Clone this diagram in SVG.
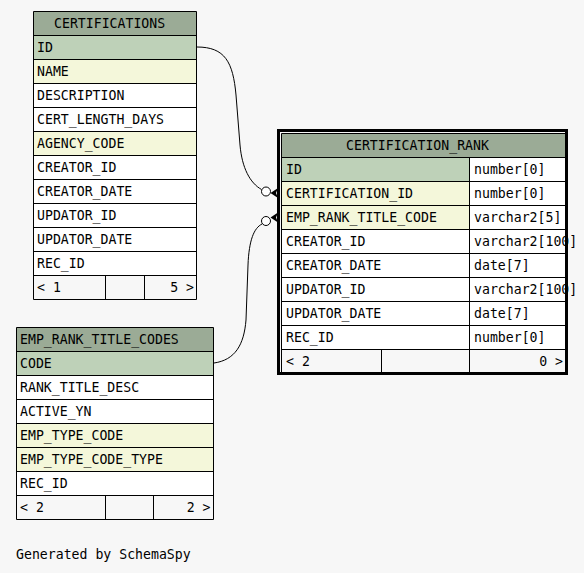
<svg xmlns="http://www.w3.org/2000/svg" width="584" height="573" viewBox="0 0 584 573">
<style>
text{font-family:"DejaVu Sans Mono","Liberation Mono",monospace;font-size:13.2px;fill:#000}
.hd{fill:#9bab96}
.pk{fill:#bed1b8}
.fk{fill:#f4f7da}
.wh{fill:#ffffff}
.ft{fill:#f7f7f7}
.g{stroke:#000;stroke-width:1;fill:none}
.e{stroke:#000;stroke-width:1;fill:none}
.o{stroke:#000;stroke-width:1;fill:#fff}
</style>
<rect width="584" height="573" fill="#f7f7f7"/>
<g id="certifications">
<rect class="hd" x="33.5" y="11.5" width="163" height="24"/>
<rect class="pk" x="33.5" y="35.5" width="163" height="24"/>
<rect class="fk" x="33.5" y="59.5" width="163" height="24"/>
<rect class="wh" x="33.5" y="83.5" width="163" height="48"/>
<rect class="fk" x="33.5" y="131.5" width="163" height="24"/>
<rect class="wh" x="33.5" y="155.5" width="163" height="120"/>
<rect class="ft" x="33.5" y="275.5" width="163" height="24"/>
<path class="g" d="M33.5,11.5H196.5V299.5H33.5Z M33.5,35.5H196.5 M33.5,59.5H196.5 M33.5,83.5H196.5 M33.5,107.5H196.5 M33.5,131.5H196.5 M33.5,155.5H196.5 M33.5,179.5H196.5 M33.5,203.5H196.5 M33.5,227.5H196.5 M33.5,251.5H196.5 M33.5,275.5H196.5 M105.5,275.5V299.5 M144.5,275.5V299.5"/>
<text x="54" y="27.5">CERTIFICATIONS</text>
<text x="37" y="51.5">ID</text>
<text x="37" y="75.5">NAME</text>
<text x="37" y="99.5">DESCRIPTION</text>
<text x="37" y="123.5">CERT_LENGTH_DAYS</text>
<text x="37" y="147.5">AGENCY_CODE</text>
<text x="37" y="171.5">CREATOR_ID</text>
<text x="37" y="195.5">CREATOR_DATE</text>
<text x="37" y="219.5">UPDATOR_ID</text>
<text x="37" y="243.5">UPDATOR_DATE</text>
<text x="37" y="267.5">REC_ID</text>
<text x="37" y="291.5">&lt; 1</text>
<text x="194" y="291.5" text-anchor="end">5 &gt;</text>
</g>
<g id="certification_rank">
<rect class="hd" x="281.5" y="133.5" width="284" height="24"/>
<rect class="pk" x="281.5" y="157.5" width="188" height="24"/>
<rect class="fk" x="281.5" y="181.5" width="188" height="48"/>
<rect class="wh" x="281.5" y="229.5" width="188" height="120"/>
<rect class="wh" x="469.5" y="157.5" width="96" height="192"/>
<rect class="ft" x="281.5" y="349.5" width="284" height="24"/>
<path class="g" d="M281.5,133.5H565.5V373.5H281.5Z M281.5,157.5H565.5 M281.5,181.5H565.5 M281.5,205.5H565.5 M281.5,229.5H565.5 M281.5,253.5H565.5 M281.5,277.5H565.5 M281.5,301.5H565.5 M281.5,325.5H565.5 M281.5,349.5H565.5 M469.5,157.5V373.5 M381.5,349.5V373.5"/>
<text x="346" y="149.5">CERTIFICATION_RANK</text>
<text x="286" y="173.5">ID</text>
<text x="286" y="197.5">CERTIFICATION_ID</text>
<text x="286" y="221.5">EMP_RANK_TITLE_CODE</text>
<text x="286" y="245.5">CREATOR_ID</text>
<text x="286" y="269.5">CREATOR_DATE</text>
<text x="286" y="293.5">UPDATOR_ID</text>
<text x="286" y="317.5">UPDATOR_DATE</text>
<text x="286" y="341.5">REC_ID</text>
<text x="474" y="173.5">number[0]</text>
<text x="474" y="197.5">number[0]</text>
<text x="474" y="221.5">varchar2[5]</text>
<text x="474" y="245.5">varchar2[100]</text>
<text x="474" y="269.5">date[7]</text>
<text x="474" y="293.5">varchar2[100]</text>
<text x="474" y="317.5">date[7]</text>
<text x="474" y="341.5">number[0]</text>
<text x="286" y="365.5">&lt; 2</text>
<text x="563" y="365.5" text-anchor="end">0 &gt;</text>
<rect x="278.5" y="130.5" width="288" height="243" fill="none" stroke="#000" stroke-width="3"/>
</g>
<g id="emp_rank_title_codes">
<rect class="hd" x="16.5" y="327.5" width="197" height="24"/>
<rect class="pk" x="16.5" y="351.5" width="197" height="24"/>
<rect class="wh" x="16.5" y="375.5" width="197" height="48"/>
<rect class="fk" x="16.5" y="423.5" width="197" height="48"/>
<rect class="wh" x="16.5" y="471.5" width="197" height="24"/>
<rect class="ft" x="16.5" y="495.5" width="197" height="24"/>
<path class="g" d="M16.5,327.5H213.5V519.5H16.5Z M16.5,351.5H213.5 M16.5,375.5H213.5 M16.5,399.5H213.5 M16.5,423.5H213.5 M16.5,447.5H213.5 M16.5,471.5H213.5 M16.5,495.5H213.5 M105.5,495.5V519.5 M153.5,495.5V519.5"/>
<text x="20" y="343.5">EMP_RANK_TITLE_CODES</text>
<text x="20" y="367.5">CODE</text>
<text x="20" y="391.5">RANK_TITLE_DESC</text>
<text x="20" y="415.5">ACTIVE_YN</text>
<text x="20" y="439.5">EMP_TYPE_CODE</text>
<text x="20" y="463.5">EMP_TYPE_CODE_TYPE</text>
<text x="20" y="487.5">REC_ID</text>
<text x="20" y="511.5">&lt; 2</text>
<text x="210.5" y="511.5" text-anchor="end">2 &gt;</text>
</g>
<g id="connectors">
<path class="e" d="M197,47 C225,47 233,62 236,95 L240,145 C242,168 250,183 261.5,189.5"/>
<circle class="o" cx="266" cy="191.5" r="4.5"/>
<polygon points="278,188 270.5,193 278,198 276,193" fill="#000"/>
<path class="e" d="M214,363 C235,360 244,345 246,320 L248,265 C249,240 254,228 262,224"/>
<circle class="o" cx="266" cy="221" r="4.5"/>
<polygon points="278,212.5 270.5,217.5 278,222.5 276,217.5" fill="#000"/>
</g>
<text x="16" y="559">Generated by SchemaSpy</text>
</svg>
